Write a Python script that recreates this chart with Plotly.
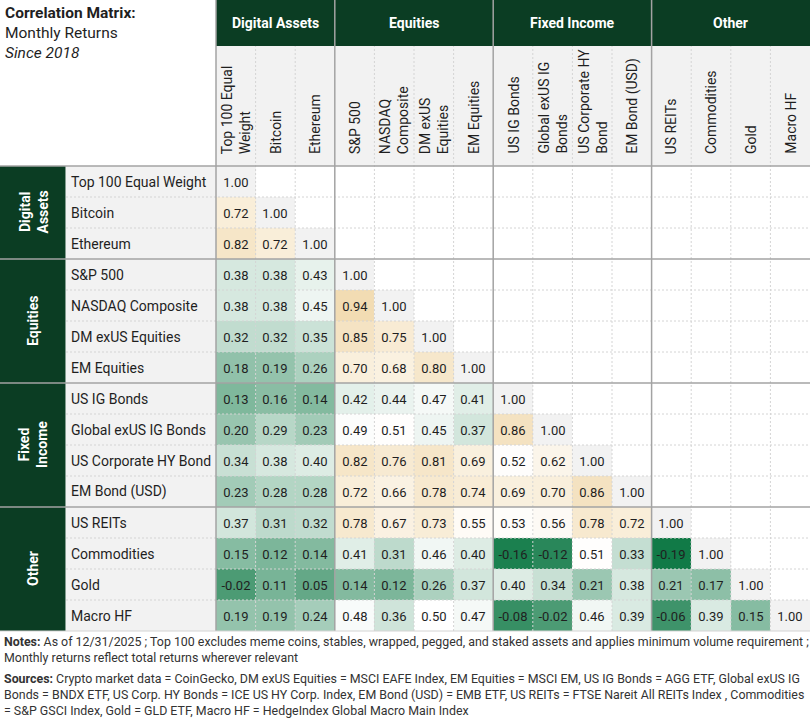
import plotly.graph_objects as go

# ---------------- data ----------------
assets = ["Top 100 Equal Weight", "Bitcoin", "Ethereum", "S&P 500", "NASDAQ Composite",
          "DM exUS Equities", "EM Equities", "US IG Bonds", "Global exUS IG Bonds",
          "US Corporate HY Bond", "EM Bond (USD)", "US REITs", "Commodities", "Gold", "Macro HF"]
col_labels = ["Top 100 Equal<br>Weight", "Bitcoin", "Ethereum", "S&P 500", "NASDAQ<br>Composite",
              "DM exUS<br>Equities", "EM Equities", "US IG Bonds", "Global exUS IG<br>Bonds",
              "US Corporate HY<br>Bond", "EM Bond (USD)", "US REITs", "Commodities", "Gold", "Macro HF"]
groups = ["Digital Assets", "Equities", "Fixed Income", "Other"]
group_side_labels = ["Digital<br>Assets", "Equities", "Fixed<br>Income", "Other"]
group_sizes = [3, 4, 4, 4]

corr_rows = [
    [1.00],
    [0.72, 1.00],
    [0.82, 0.72, 1.00],
    [0.38, 0.38, 0.43, 1.00],
    [0.38, 0.38, 0.45, 0.94, 1.00],
    [0.32, 0.32, 0.35, 0.85, 0.75, 1.00],
    [0.18, 0.19, 0.26, 0.70, 0.68, 0.80, 1.00],
    [0.13, 0.16, 0.14, 0.42, 0.44, 0.47, 0.41, 1.00],
    [0.20, 0.29, 0.23, 0.49, 0.51, 0.45, 0.37, 0.86, 1.00],
    [0.34, 0.38, 0.40, 0.82, 0.76, 0.81, 0.69, 0.52, 0.62, 1.00],
    [0.23, 0.28, 0.28, 0.72, 0.66, 0.78, 0.74, 0.69, 0.70, 0.86, 1.00],
    [0.37, 0.31, 0.32, 0.78, 0.67, 0.73, 0.55, 0.53, 0.56, 0.78, 0.72, 1.00],
    [0.15, 0.12, 0.14, 0.41, 0.31, 0.46, 0.40, -0.16, -0.12, 0.51, 0.33, -0.19, 1.00],
    [-0.02, 0.11, 0.05, 0.14, 0.12, 0.26, 0.37, 0.40, 0.34, 0.21, 0.38, 0.21, 0.17, 1.00],
    [0.19, 0.19, 0.24, 0.48, 0.36, 0.50, 0.47, -0.08, -0.02, 0.46, 0.39, -0.06, 0.39, 0.15, 1.00],
]

title_lines = ["<b>Correlation Matrix:</b>", "Monthly Returns", "<i>Since 2018</i>"]
notes_lines = ["<b>Notes:</b> As of 12/31/2025 ; Top 100 excludes meme coins, stables, wrapped, pegged, and staked assets and applies minimum volume requirement ;",
               "Monthly returns reflect total returns wherever relevant"]
sources_lines = ["<b>Sources:</b> Crypto market data = CoinGecko, DM exUS Equities = MSCI EAFE Index, EM Equities = MSCI EM, US IG Bonds = AGG ETF, Global exUS IG",
                 "Bonds = BNDX ETF, US Corp. HY Bonds = ICE US HY Corp. Index, EM Bond (USD) = EMB ETF, US REITs = FTSE Nareit All REITs Index , Commodities",
                 "= S&P GSCI Index, Gold = GLD ETF, Macro HF = HedgeIndex Global Macro Main Index"]

# ---------------- style / geometry ----------------
W, H = 810, 720
L, T, B = 216, 166, 631
N = len(assets)
DARK = "#0b3d23"
GRAY_BG = "#f2f2f2"
TXT = "#1f1f1f"
FONT = "Roboto"


def px(x):
    return (x - L) / (W - L)


def py(y):
    return (B - y) / (B - T)


z_off = [[None] * N for _ in range(N)]
t_off = [[""] * N for _ in range(N)]
z_diag = [[None] * N for _ in range(N)]
t_diag = [[""] * N for _ in range(N)]
for i, row in enumerate(corr_rows):
    for j, v in enumerate(row):
        if i == j:
            z_diag[i][j] = v
            t_diag[i][j] = f"{v:.2f}"
        else:
            z_off[i][j] = v
            t_off[i][j] = f"{v:.2f}"

offvals = [v for i, r in enumerate(corr_rows) for j, v in enumerate(r) if i != j]
zmin, zmax = min(offvals), max(offvals)
mid = 0.50
mpos = (mid - zmin) / (zmax - zmin)

fig = go.Figure()
fig.add_trace(go.Heatmap(
    x=list(range(N)), y=list(range(N)), z=z_off, text=t_off, texttemplate="%{text}",
    textfont=dict(family=FONT, size=13, color=TXT),
    colorscale=[[0, "#117a47"], [mpos, "#ffffff"], [1, "#f2dcb3"]],
    zmin=zmin, zmax=zmax, showscale=False, hoverinfo="skip", xgap=0, ygap=0))
fig.add_trace(go.Heatmap(
    x=list(range(N)), y=list(range(N)), z=z_diag, text=t_diag, texttemplate="%{text}",
    textfont=dict(family=FONT, size=13, color=TXT),
    colorscale=[[0, GRAY_BG], [1, GRAY_BG]], showscale=False, hoverinfo="skip"))

shapes = []
ann = []
# backgrounds
shapes.append(dict(type="rect", xref="paper", yref="paper", x0=0, x1=1, y0=py(46), y1=py(0),
                   fillcolor=DARK, line_width=0, layer="below"))
shapes.append(dict(type="rect", xref="paper", yref="paper", x0=0, x1=1, y0=py(T), y1=py(46),
                   fillcolor=GRAY_BG, line_width=0, layer="below"))
shapes.append(dict(type="rect", xref="paper", yref="paper", x0=px(66), x1=0, y0=0, y1=1,
                   fillcolor=GRAY_BG, line_width=0, layer="below"))

# group blocks
start = 0
bounds = [0]
for g, gl, s in zip(groups, group_side_labels, group_sizes):
    end = start + s
    bounds.append(end)
    shapes.append(dict(type="rect", xref="paper", yref="paper", x0=px(0), x1=px(65.5),
                       y0=1 - end / N, y1=1 - start / N, fillcolor=DARK, line_width=0, layer="below"))
    ann.append(dict(text=f"<b>{g}</b>", xref="x", yref="paper", x=(start + end - 1) / 2, y=py(23),
                    xanchor="center", yanchor="middle",
                    showarrow=False, font=dict(family=FONT, size=14, color="white")))
    ann.append(dict(text=f"<b>{gl}</b>", xref="paper", yref="y", x=px(33), y=(start + end - 1) / 2,
                    xanchor="center", yanchor="middle",
                    showarrow=False, textangle=-90, font=dict(family=FONT, size=14, color="white")))
    start = end

# dashed cell lines
for k in range(1, N):
    if k in bounds:
        continue
    shapes.append(dict(type="line", xref="paper", yref="paper", x0=k / N, x1=k / N, y0=0, y1=py(46),
                       line=dict(color="#d4d4d4", width=1, dash="2px,2px")))
    shapes.append(dict(type="line", xref="paper", yref="paper", x0=px(66), x1=1, y0=1 - k / N, y1=1 - k / N,
                       line=dict(color="#d4d4d4", width=1, dash="2px,2px")))
# solid group lines
for k in bounds[:-1]:
    shapes.append(dict(type="line", xref="paper", yref="paper", x0=k / N, x1=k / N, y0=0, y1=py(0),
                       line=dict(color="#a3a3a3", width=1.5)))
    shapes.append(dict(type="line", xref="paper", yref="paper", x0=px(0), x1=1, y0=1 - k / N, y1=1 - k / N,
                       line=dict(color="#a3a3a3", width=1.5)))
shapes.append(dict(type="line", xref="paper", yref="paper", x0=px(0), x1=1, y0=0, y1=0,
                   line=dict(color="#d4d4d4", width=1)))

# row and column labels
for i, a in enumerate(assets):
    ann.append(dict(text=a, xref="paper", yref="y", x=px(69), y=i, xanchor="left", yanchor="middle",
                    showarrow=False, font=dict(family=FONT, size=14, color=TXT)))
for j, c in enumerate(col_labels):
    ann.append(dict(text=c, xref="x", yref="paper", x=j, y=py(156), xanchor="center", yanchor="bottom",
                    textangle=-90, align="left", showarrow=False,
                    font=dict(family=FONT, size=14, color=TXT)))

# title and footer
ann.append(dict(text="<br>".join(title_lines), xref="paper", yref="paper", x=px(3), y=py(2),
                xanchor="left", yanchor="top", align="left", showarrow=False,
                font=dict(family=FONT, size=15.5, color=TXT)))
ann.append(dict(text="<br>".join(notes_lines), xref="paper", yref="paper", x=px(2), y=py(632),
                xanchor="left", yanchor="top", align="left", showarrow=False,
                font=dict(family=FONT, size=12.4, color="#333333")))
ann.append(dict(text="<br>".join(sources_lines), xref="paper", yref="paper", x=px(2), y=py(669),
                xanchor="left", yanchor="top", align="left", showarrow=False,
                font=dict(family=FONT, size=12.4, color="#333333")))

fig.update_layout(
    width=W, height=H, margin=dict(l=L, r=0, t=T, b=H - B),
    paper_bgcolor="white", plot_bgcolor="white",
    xaxis=dict(range=[-0.5, N - 0.5], visible=False, fixedrange=True),
    yaxis=dict(range=[N - 0.5, -0.5], visible=False, fixedrange=True),
    shapes=shapes, annotations=ann, showlegend=False,
)
fig.write_html("out.html", config={"displayModeBar": False},
               post_script="document.body.style.margin='0';document.body.style.overflow='hidden';")
